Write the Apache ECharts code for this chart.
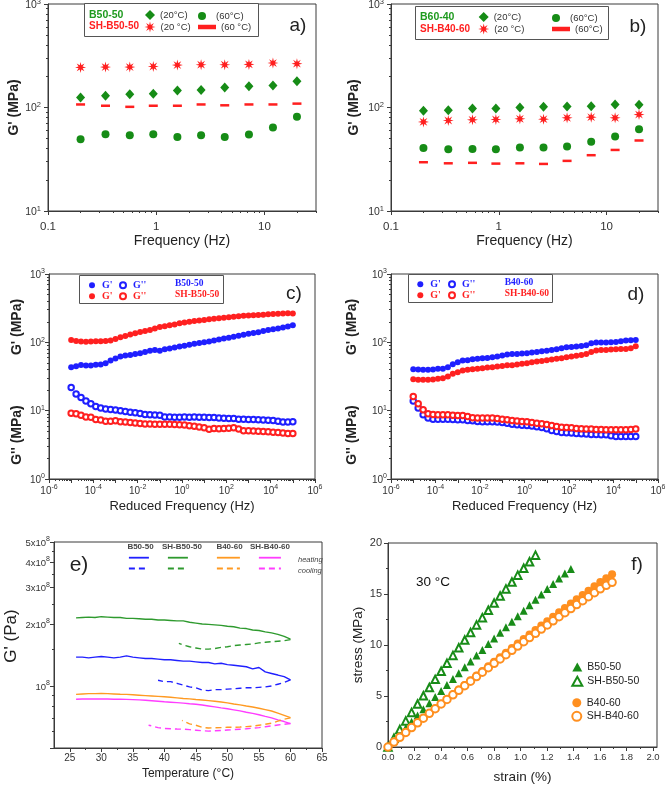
<!DOCTYPE html>
<html><head><meta charset="utf-8">
<script src="https://cdn.jsdelivr.net/npm/echarts@6/dist/echarts.min.js"></script>
<style>html,body{margin:0;padding:0;background:#fff}#c{width:666px;height:786px}</style>
</head><body><div id="c"></div>
<script>
const FONT = "'Liberation Sans', Arial, Helvetica, sans-serif";
const SERIF = "'Liberation Serif', 'Times New Roman', serif";
const AX = '#3a3a3a', TXT = '#333';

// ---------------- Panel a / b : frequency sweeps ----------------
const freqAB = [0.2, 0.34, 0.57, 0.94, 1.57, 2.6, 4.3, 7.2, 12, 20];
const aB5050_20 = [125, 130, 134, 136, 146, 148, 156, 160, 163, 179];
const aB5050_60 = [49.4, 55.2, 54.0, 55.2, 52.0, 54.0, 52.0, 54.8, 64.0, 81.2];
const aSH5050_20 = [244, 246, 246, 249, 257, 259, 259, 261, 269, 265];
const aSH5050_60 = [107, 104, 101.5, 104, 104, 107, 105, 107, 107, 109];
const bB6040_20 = [92.9, 94.2, 97.8, 97.8, 100, 101.5, 102.3, 103, 106.9, 106.1];
const bB6040_60 = [40.7, 39.5, 39.8, 39.5, 41.0, 41.0, 42.0, 46.6, 52.4, 61.7];
const bSH4060_20 = [72.6, 74.9, 76.0, 76.6, 77.7, 77.1, 79.4, 80.6, 79.4, 85.5];
const bSH4060_60 = [29.6, 28.9, 29.2, 28.7, 28.9, 28.5, 30.5, 34.6, 38.9, 48.0];

// ---------------- Panel c / d : master curves ----------------
const redFreq = [1e-5, 1.67e-5, 2.78e-5, 4.64e-5, 7.74e-5, 1.29e-4, 2.15e-4, 3.59e-4, 5.99e-4,
  1e-3, 1.67e-3, 2.78e-3, 4.64e-3, 7.74e-3, 1.29e-2, 2.15e-2, 3.59e-2, 5.99e-2,
  1e-1, 1.67e-1, 2.78e-1, 4.64e-1, 7.74e-1, 1.29, 2.15, 3.59, 5.99,
  10, 16.7, 27.8, 46.4, 77.4, 129, 215, 359, 599,
  1e3, 1.67e3, 2.78e3, 4.64e3, 7.74e3, 1.29e4, 2.15e4, 3.59e4, 5.99e4, 1e5];
const cB5050_Gp = [43.3, 44.5, 46.5, 46, 46, 46.8, 47.5, 49.5, 54, 58, 62, 64, 65.5, 67.5, 69.3, 72.5, 75.5, 77.5, 75.5, 79.3,
  81.5, 84, 87, 89, 92, 95, 98, 100, 103, 106, 110, 114, 117, 121, 125, 129, 133, 137, 141, 146, 151, 156, 160, 165, 170, 178];
const cB5050_Gpp = [21.8, 17.6, 15.6, 13.9, 12.6, 11.5, 10.9, 10.6, 10.4, 10.2, 9.95, 9.7, 9.5, 9.3, 9.1, 8.8, 8.7, 8.65, 8.6, 8.05,
  8.05, 8.0, 8.0, 8.05, 8.0, 8.05, 8.0, 8.0, 7.95, 7.95, 7.8, 7.75, 7.7, 7.7, 7.5, 7.5, 7.45, 7.4, 7.35, 7.3, 7.25, 7.15, 7.0, 6.85, 6.8, 6.9];
const cSH5050_Gp = [108, 105, 103, 102, 103, 104, 104, 105, 106, 112, 119, 124, 130, 136, 142, 147, 151, 160, 168, 172,
  178, 183, 190, 195, 200, 205, 209, 213, 218, 222, 225, 228, 232, 236, 240, 244, 247, 249, 251, 254, 257, 259, 262, 265, 267, 264];
const cSH5050_Gpp = [9.2, 9.0, 8.6, 8.1, 8.0, 7.4, 7.3, 7.0, 7.0, 7.1, 6.9, 6.8, 6.7, 6.6, 6.5, 6.4, 6.4, 6.35, 6.35, 6.35,
  6.35, 6.3, 6.2, 6.15, 6.0, 5.9, 5.75, 5.6, 5.35, 5.5, 5.45, 5.5, 5.55, 5.6, 5.37, 5.08, 5.1, 5.05, 5.0, 4.95, 4.9, 4.85, 4.8, 4.7, 4.65, 4.65];
const dB4060_Gp = [40.4, 40, 39.6, 39.6, 40, 40.9, 40.9, 43.3, 47.9, 51.2, 54.1, 54.7, 56.6, 57.3, 58.6, 59.2, 60.6, 62, 64.1, 66.2,
  67.7, 67.7, 68.5, 69.3, 70.9, 72.5, 74.1, 75, 77.5, 79.3, 82, 84.8, 85.7, 86.7, 88.7, 90.7, 97, 99.2, 99.2, 99.2, 100.3, 101.5, 103.8, 106.1, 107.3, 108.5];
const dB4060_Gpp = [13.9, 10.9, 8.7, 7.78, 7.52, 7.52, 7.52, 7.52, 7.45, 7.35, 7.35, 7.19, 7.1, 6.95, 6.87, 6.87, 6.87, 6.8, 6.72, 6.57,
  6.35, 6.21, 6.14, 6.07, 5.94, 5.8, 5.68, 5.43, 5.13, 4.97, 4.8, 4.75, 4.7, 4.64, 4.59, 4.54, 4.49, 4.49, 4.44, 4.44, 4.29, 4.2, 4.2, 4.2, 4.2, 4.2];
const dSH4060_Gp = [28.9, 28.3, 28.3, 28.3, 28.6, 29.2, 29.9, 31.6, 34.6, 36.6, 38.7, 39.6, 40.4, 40.9, 41.8, 42.8, 43.3, 44.2, 45.2, 46.3,
  46.3, 47.3, 48.4, 49.5, 51.2, 52.3, 53.5, 54.7, 56, 57.3, 58.6, 60.6, 62, 63.4, 65.5, 67.7, 72.5, 75.8, 77.5, 77.5, 78.4, 79.3, 80.2, 80.2, 82, 87.7];
const dSH4060_Gpp = [16.1, 12.6, 10.3, 9.0, 8.8, 8.7, 8.7, 8.7, 8.6, 8.5, 8.5, 8.23, 7.87, 7.78, 7.78, 7.78, 7.78, 7.7, 7.52, 7.35,
  7.19, 7.03, 6.95, 6.87, 6.72, 6.57, 6.43, 6.28, 6.07, 5.87, 5.73, 5.68, 5.62, 5.49, 5.43, 5.37, 5.37, 5.31, 5.31, 5.25, 5.25, 5.25, 5.25, 5.25, 5.31, 5.37];

// ---------------- Panel e : temperature ramps (G' in units of 1e8 Pa) ----------------
const E_UNIT = 1e8;
const tempHeat = [26, 27, 28, 29, 30, 31, 32, 33, 34, 35, 36, 37, 38, 39, 40, 41, 42, 43, 44, 45, 46, 47, 48, 49, 50, 51, 52, 53, 54, 55, 56, 57, 58, 59, 60];
const eB5050_heat = [1.38, 1.38, 1.37, 1.38, 1.39, 1.38, 1.37, 1.38, 1.40, 1.38, 1.37, 1.36, 1.36, 1.35, 1.34, 1.34, 1.33, 1.32, 1.32, 1.31,
  1.30, 1.30, 1.28, 1.29, 1.27, 1.26, 1.25, 1.24, 1.21, 1.23, 1.17, 1.15, 1.13, 1.11, 1.07];
const eSH5050_heat = [2.14, 2.15, 2.16, 2.15, 2.17, 2.16, 2.15, 2.15, 2.13, 2.13, 2.12, 2.11, 2.11, 2.09, 2.09, 2.08, 2.07, 2.07, 2.04, 2.02,
  2.00, 1.99, 1.98, 1.97, 1.95, 1.94, 1.91, 1.90, 1.87, 1.86, 1.83, 1.81, 1.78, 1.74, 1.69];
const eB4060_heat = [0.91, 0.915, 0.918, 0.918, 0.92, 0.918, 0.915, 0.912, 0.91, 0.906, 0.902, 0.898, 0.894, 0.89, 0.886, 0.882, 0.876, 0.87, 0.866, 0.86,
  0.855, 0.849, 0.843, 0.836, 0.828, 0.818, 0.81, 0.80, 0.791, 0.78, 0.768, 0.756, 0.738, 0.72, 0.702];
const eSH4060_heat = [0.862, 0.864, 0.865, 0.864, 0.865, 0.864, 0.862, 0.862, 0.861, 0.859, 0.856, 0.852, 0.848, 0.843, 0.838, 0.834, 0.830, 0.826, 0.82, 0.815,
  0.808, 0.80, 0.792, 0.783, 0.775, 0.766, 0.757, 0.746, 0.736, 0.725, 0.712, 0.70, 0.685, 0.672, 0.657];
const tempCoolB5050 = [60, 59, 58, 57, 56, 55, 54, 53, 52, 51, 50, 49, 48, 47, 46, 45, 44, 43, 42, 41, 40, 39];
const eB5050_cool = [1.07, 1.04, 1.02, 1.00, 0.99, 0.985, 0.98, 0.98, 0.975, 0.97, 0.965, 0.96, 0.96, 0.95, 0.955, 0.98, 0.99, 1.01, 1.03, 1.05, 1.05, 1.066];
const tempCoolSH5050 = [60, 59, 58, 57, 56, 55, 54, 53, 52, 51, 50, 49, 48, 47, 46, 45, 44, 43, 42.3];
const eSH5050_cool = [1.68, 1.66, 1.65, 1.64, 1.63, 1.62, 1.60, 1.59, 1.58, 1.57, 1.55, 1.54, 1.52, 1.51, 1.51, 1.53, 1.55, 1.58, 1.61];
const tempCoolB4060 = [60, 59, 58, 57, 56, 55, 54, 53, 52, 51, 50, 49, 48, 47, 46, 45, 44, 43, 42.8];
const eB4060_cool = [0.70, 0.69, 0.675, 0.66, 0.652, 0.645, 0.638, 0.635, 0.632, 0.63, 0.63, 0.628, 0.627, 0.625, 0.63, 0.645, 0.655, 0.675, 0.68];
const tempCoolSH4060 = [60, 59, 58, 57, 56, 55, 54, 53, 52, 51, 50, 49, 48, 47, 46, 45, 44, 43, 42, 41, 40, 39, 38, 37.5];
const eSH4060_cool = [0.657, 0.652, 0.647, 0.64, 0.634, 0.628, 0.624, 0.62, 0.617, 0.614, 0.611, 0.608, 0.606, 0.604, 0.606, 0.61, 0.614, 0.617, 0.618, 0.62, 0.622, 0.628, 0.64, 0.645];

// ---------------- Panel f : stress-strain ----------------
const strainF = [0, 0.045, 0.089, 0.134, 0.178, 0.223, 0.267, 0.312, 0.356, 0.401, 0.445, 0.490, 0.534, 0.579, 0.623, 0.668, 0.712, 0.757, 0.801, 0.846,
  0.890, 0.935, 0.979, 1.024, 1.068, 1.113, 1.157, 1.202, 1.246, 1.291, 1.335, 1.380, 1.424, 1.469, 1.513, 1.558, 1.602, 1.647, 1.691];
const fB5050 = [0, 0.63, 1.25, 1.87, 2.47, 3.09, 3.69, 4.30, 4.89, 5.49, 6.07, 6.66, 7.23, 7.82, 8.38, 8.96, 9.52, 10.09, 10.64, 11.20,
  11.74, 12.29, 12.83, 13.37, 13.90, 14.43, 14.95, 15.48, 15.99, 16.51, 17.01, 17.45];
const fSH5050 = [0, 0.87, 1.71, 2.56, 3.39, 4.22, 5.03, 5.84, 6.63, 7.43, 8.20, 8.98, 9.73, 10.49, 11.22, 11.97, 12.68, 13.41, 14.11, 14.81,
  15.50, 16.18, 16.85, 17.52, 18.16, 18.81];
const fB4060 = [0, 0.48, 0.95, 1.43, 1.90, 2.38, 2.84, 3.32, 3.78, 4.25, 4.71, 5.17, 5.63, 6.09, 6.54, 7.00, 7.45, 7.91, 8.35, 8.81,
  9.25, 9.70, 10.14, 10.58, 11.02, 11.46, 11.90, 12.34, 12.76, 13.20, 13.63, 14.06, 14.48, 14.91, 15.33, 15.76, 16.18, 16.55, 16.94];
const fSH4060 = [0, 0.48, 0.95, 1.43, 1.90, 2.37, 2.83, 3.30, 3.75, 4.22, 4.66, 5.12, 5.56, 6.01, 6.45, 6.90, 7.33, 7.77, 8.20, 8.63,
  9.05, 9.48, 9.90, 10.32, 10.73, 11.15, 11.56, 11.97, 12.37, 12.77, 13.17, 13.57, 13.96, 14.35, 14.74, 15.13, 15.51, 15.85, 16.15];

// ---------------- tick arrays ----------------
const abXLabels = [0.1, 1, 10];
const abYLabels = [10, 100, 1000];
const cdXLabels = [1e-6, 1e-4, 1e-2, 1, 1e2, 1e4, 1e6];
const cdXMajor = [1e-6, 1e-5, 1e-4, 1e-3, 1e-2, 1e-1, 1, 10, 1e2, 1e3, 1e4, 1e5, 1e6];
const cdYLabels = [1, 10, 100, 1000];
const eXLabels = [25, 30, 35, 40, 45, 50, 55, 60, 65];
const eXMinor = [27.5, 32.5, 37.5, 42.5, 47.5, 52.5, 57.5, 62.5];
const eYLabels = [1e8, 2e8, 3e8, 4e8, 5e8];
const eYMajor = [5e7, 1e8, 2e8, 3e8, 4e8, 5e8];
const eYMinor = [6e7, 7e7, 8e7, 9e7, 1.5e8, 2.5e8, 3.5e8, 4.5e8];
const fXLabels = [0, 0.2, 0.4, 0.6, 0.8, 1.0, 1.2, 1.4, 1.6, 1.8, 2.0];
const fXMinor = [0.1, 0.3, 0.5, 0.7, 0.9, 1.1, 1.3, 1.5, 1.7, 1.9];
const fYLabels = [0, 5, 10, 15, 20];
const fYMinor = [2.5, 7.5, 12.5, 17.5];

function logMinor(e0, e1) {
  const out = [];
  for (let e = e0; e < e1; e++) for (let k = 2; k <= 9; k++) out.push(+(k * Math.pow(10, e)).toPrecision(3));
  return out;
}
const zip = (xs, ys, s) => ys.map((y, i) => [xs[i], y * (s || 1)]);

// ---------------- colours & symbols ----------------
const GREEN_A = '#168c16', RED_A = '#ff1f1f';
const BLUE = '#1f1fff', RED = '#ff2020';
const E_BLUE = '#2020ff', E_GREEN = '#2e9a2e', E_ORANGE = '#ff9a22', E_MAGENTA = '#ff3dff';
const F_GREEN = '#188c18', F_ORANGE = '#ff8f1f';
const STAR = 'path://M10,0L3.7,1.53L7.07,7.07L1.53,3.7L0,10L-1.53,3.7L-7.07,7.07L-3.7,1.53L-10,0L-3.7,-1.53L-7.07,-7.07L-1.53,-3.7L0,-10L1.53,-3.7L7.07,-7.07L3.7,-1.53Z';
const DASH = 'path://M0,0H10V2.5H0Z';

const supFmt = v => '{b|10}{s|' + Math.round(Math.log10(v)) + '}';
const eYFmt = v => { const m = Math.round(v / 1e7) / 10; return m === 1 ? '{b|10}{s|8}' : '{b|' + m + 'x10}{s|8}'; };
const rich = (b, s) => ({
  b: {fontSize: b, color: TXT, fontFamily: FONT, verticalAlign: 'bottom', padding: [2, 0, 0, 0]},
  s: {fontSize: s, color: TXT, fontFamily: FONT, verticalAlign: 'top'}
});

function mkAxis(o) {
  const minor = !!o.minor;
  return {
    gridIndex: o.grid, type: o.type, min: o.min, max: o.max, position: o.pos, logBase: 10,
    axisLine: {show: !minor, onZero: false, lineStyle: {color: AX, width: 1}},
    axisTick: {show: true, inside: false, length: minor ? 2 : 4, lineStyle: {color: AX, width: 1}, customValues: o.ticks},
    axisLabel: minor ? {show: false} : {show: true, customValues: o.labels, formatter: o.fmt, margin: o.margin,
      fontSize: o.fs, color: TXT, fontFamily: FONT, rich: o.rich || {}},
    splitLine: {show: false}, minorTick: {show: false}, minorSplitLine: {show: false},
    name: o.name || '', nameLocation: 'middle', nameGap: o.nameGap || 0, nameRotate: o.nameRotate || 0,
    nameTextStyle: {fontSize: o.nameFs || 12, fontWeight: o.nameBold ? 'bold' : 'normal', color: '#222', fontFamily: FONT},
    silent: true
  };
}

const xAxis = [
  mkAxis({grid: 0, type: 'log', min: 0.1, max: 30, pos: 'bottom', labels: abXLabels, ticks: abXLabels, fmt: v => String(v), fs: 11.5, margin: 10, name: 'Frequency (Hz)', nameGap: 21, nameFs: 14}),
  mkAxis({grid: 1, type: 'log', min: 0.1, max: 30, pos: 'bottom', labels: abXLabels, ticks: abXLabels, fmt: v => String(v), fs: 11.5, margin: 10, name: 'Frequency (Hz)', nameGap: 21, nameFs: 14}),
  mkAxis({grid: 2, type: 'log', min: 1e-6, max: 1e6, pos: 'bottom', labels: cdXLabels, ticks: cdXMajor, fmt: supFmt, rich: rich(10, 7), margin: 5, name: 'Reduced Frequency (Hz)', nameGap: 21, nameFs: 13}),
  mkAxis({grid: 3, type: 'log', min: 1e-6, max: 1e6, pos: 'bottom', labels: cdXLabels, ticks: cdXMajor, fmt: supFmt, rich: rich(10, 7), margin: 5, name: 'Reduced Frequency (Hz)', nameGap: 21, nameFs: 13}),
  mkAxis({grid: 4, type: 'value', min: 22.5, max: 65, pos: 'bottom', labels: eXLabels, ticks: eXLabels, fmt: v => String(v), fs: 10, margin: 5, name: 'Temperature (°C)', nameGap: 20, nameFs: 12}),
  mkAxis({grid: 5, type: 'value', min: 0, max: 2.03, pos: 'bottom', labels: fXLabels, ticks: fXLabels, fmt: v => v.toFixed(1), fs: 9.5, margin: 5, name: 'strain (%)', nameGap: 23, nameFs: 13.5}),
  mkAxis({grid: 0, type: 'log', min: 0.1, max: 30, pos: 'bottom', ticks: logMinor(-1, 2), minor: true}),
  mkAxis({grid: 1, type: 'log', min: 0.1, max: 30, pos: 'bottom', ticks: logMinor(-1, 2), minor: true}),
  mkAxis({grid: 2, type: 'log', min: 1e-6, max: 1e6, pos: 'bottom', ticks: logMinor(-6, 6), minor: true}),
  mkAxis({grid: 3, type: 'log', min: 1e-6, max: 1e6, pos: 'bottom', ticks: logMinor(-6, 6), minor: true}),
  mkAxis({grid: 4, type: 'value', min: 22.5, max: 65, pos: 'bottom', ticks: eXMinor, minor: true}),
  mkAxis({grid: 5, type: 'value', min: 0, max: 2.03, pos: 'bottom', ticks: fXMinor, minor: true})
];
const yAxis = [
  mkAxis({grid: 0, type: 'log', min: 10, max: 1000, pos: 'left', labels: abYLabels, ticks: abYLabels, fmt: supFmt, rich: rich(10.5, 7.5), margin: 7, name: "G' (MPa)", nameGap: 27, nameRotate: 90, nameFs: 14, nameBold: true}),
  mkAxis({grid: 1, type: 'log', min: 10, max: 1000, pos: 'left', labels: abYLabels, ticks: abYLabels, fmt: supFmt, rich: rich(10.5, 7.5), margin: 7, name: "G' (MPa)", nameGap: 30, nameRotate: 90, nameFs: 14, nameBold: true}),
  mkAxis({grid: 2, type: 'log', min: 1, max: 1000, pos: 'left', labels: cdYLabels, ticks: cdYLabels, fmt: supFmt, rich: rich(10, 7), margin: 4}),
  mkAxis({grid: 3, type: 'log', min: 1, max: 1000, pos: 'left', labels: cdYLabels, ticks: cdYLabels, fmt: supFmt, rich: rich(10, 7), margin: 4}),
  mkAxis({grid: 4, type: 'log', min: 5e7, max: 5e8, pos: 'left', labels: eYLabels, ticks: eYMajor, fmt: eYFmt, rich: rich(9.5, 7), margin: 4}),
  mkAxis({grid: 5, type: 'value', min: 0, max: 20, pos: 'left', labels: fYLabels, ticks: fYLabels, fmt: v => String(v), fs: 11, margin: 6, name: 'stress (MPa)', nameGap: 23, nameRotate: 90, nameFs: 13.5}),
  mkAxis({grid: 0, type: 'log', min: 10, max: 1000, pos: 'left', ticks: logMinor(1, 3), minor: true}),
  mkAxis({grid: 1, type: 'log', min: 10, max: 1000, pos: 'left', ticks: logMinor(1, 3), minor: true}),
  mkAxis({grid: 2, type: 'log', min: 1, max: 1000, pos: 'left', ticks: logMinor(0, 3), minor: true}),
  mkAxis({grid: 3, type: 'log', min: 1, max: 1000, pos: 'left', ticks: logMinor(0, 3), minor: true}),
  mkAxis({grid: 4, type: 'log', min: 5e7, max: 5e8, pos: 'left', ticks: eYMinor, minor: true}),
  mkAxis({grid: 5, type: 'value', min: 0, max: 20, pos: 'left', ticks: fYMinor, minor: true})
];

const gridBox = g => Object.assign({show: true, borderColor: AX, borderWidth: 1, backgroundColor: 'transparent', containLabel: false, outerBoundsMode: 'none'}, g);
const grid = [
  gridBox({left: 48, top: 4, width: 268, height: 207}),
  gridBox({left: 391, top: 4, width: 267, height: 207}),
  gridBox({left: 49, top: 274, width: 266, height: 205}),
  gridBox({left: 391, top: 274, width: 267, height: 205}),
  gridBox({left: 54, top: 542, width: 268, height: 206}),
  gridBox({left: 388, top: 543, width: 269, height: 204})
];

const LABEL = {};
const series = [];
function sc(name, label, g, xs, ys, symbol, size, color, borderWidth) {
  LABEL[name] = label;
  const itemStyle = {color, opacity: 1};
  if (borderWidth) { itemStyle.borderColor = color; itemStyle.borderWidth = borderWidth; }
  series.push({name, type: 'scatter', xAxisIndex: g, yAxisIndex: g, symbol, symbolSize: size,
    itemStyle, data: zip(xs, ys), silent: true, z: 3});
}
// a
sc('a1', '(20°C)', 0, freqAB, aB5050_20, 'diamond', [9, 10], GREEN_A);
sc('a2', '(60°C)', 0, freqAB, aB5050_60, 'circle', 8, GREEN_A);
sc('a3', '(20 °C)', 0, freqAB, aSH5050_20, STAR, 11, RED_A);
sc('a4', '(60 °C)', 0, freqAB, aSH5050_60, DASH, [9, 2.5], RED_A);
// b
sc('b1', '(20°C)', 1, freqAB, bB6040_20, 'diamond', [9, 10], GREEN_A);
sc('b2', '(60°C)', 1, freqAB, bB6040_60, 'circle', 8, GREEN_A);
sc('b3', '(20 °C)', 1, freqAB, bSH4060_20, STAR, 11, RED_A);
sc('b4', '(60°C)', 1, freqAB, bSH4060_60, DASH, [9, 2.5], RED_A);
// c
sc('c1', "G'", 2, redFreq, cB5050_Gp, 'circle', 6, BLUE);
sc('c2', "G''", 2, redFreq, cB5050_Gpp, 'emptyCircle', 5.5, BLUE, 1.4);
sc('c3', "G'", 2, redFreq, cSH5050_Gp, 'circle', 6, RED);
sc('c4', "G''", 2, redFreq, cSH5050_Gpp, 'emptyCircle', 5.5, RED, 1.4);
// d
sc('d1', "G'", 3, redFreq, dB4060_Gp, 'circle', 6, BLUE);
sc('d2', "G''", 3, redFreq, dB4060_Gpp, 'emptyCircle', 5.5, BLUE, 1.4);
sc('d3', "G'", 3, redFreq, dSH4060_Gp, 'circle', 6, RED);
sc('d4', "G''", 3, redFreq, dSH4060_Gpp, 'emptyCircle', 5.5, RED, 1.4);
// f
sc('f1', 'B50-50', 5, strainF, fB5050, 'triangle', 8, F_GREEN);
sc('f2', 'SH-B50-50', 5, strainF, fSH5050, 'emptyTriangle', 7.5, F_GREEN, 0.8);
sc('f3', 'B40-60', 5, strainF, fB4060, 'circle', 8, F_ORANGE);
sc('f4', 'SH-B40-60', 5, strainF, fSH4060, 'emptyCircle', 7.5, F_ORANGE, 0.8);
// e (lines)
function ln(name, xs, ys, color, dashed) {
  LABEL[name] = '';
  series.push({name, type: 'line', xAxisIndex: 4, yAxisIndex: 4, symbol: 'none', silent: true, z: 3,
    lineStyle: {color, width: 1.4, type: dashed ? [6, 4] : 'solid'}, itemStyle: {color}, data: zip(xs, ys, E_UNIT)});
}
ln('e1', tempHeat, eB5050_heat, E_BLUE, false);
ln('e2', tempHeat, eSH5050_heat, E_GREEN, false);
ln('e3', tempHeat, eB4060_heat, E_ORANGE, false);
ln('e4', tempHeat, eSH4060_heat, E_MAGENTA, false);
ln('e5', tempCoolB5050, eB5050_cool, E_BLUE, true);
ln('e6', tempCoolSH5050, eSH5050_cool, E_GREEN, true);
ln('e7', tempCoolB4060, eB4060_cool, E_ORANGE, true);
ln('e8', tempCoolSH4060, eSH4060_cool, E_MAGENTA, true);

function lg(names, left, top, w, h, ts, orient, gap, extra) {
  return Object.assign({show: true, left, top, padding: 0, orient: orient || 'horizontal', itemGap: gap || 0, itemWidth: w, itemHeight: h,
    selectedMode: false, data: names, formatter: n => LABEL[n],
    textStyle: Object.assign({color: TXT, fontSize: 9.5, fontFamily: FONT, padding: [0, 0, 0, 0]}, ts || {})}, extra || {});
}
const SERIF_T = c => ({color: c, fontFamily: SERIF, fontWeight: 'bold', fontSize: 10});
const E_LEG = {itemStyle: {opacity: 0, borderWidth: 0}, lineStyle: {width: 1.8}};
const legend = [
  // a
  lg(['a1'], 145, 10, 10, 10), lg(['a2'], 198, 11, 18, 8),
  lg(['a3'], 144.5, 21.5, 11, 11), lg(['a4'], 198, 22, 18, 10),
  // b
  lg(['b1'], 478.7, 12, 10, 10), lg(['b2'], 552, 13, 18, 8),
  lg(['b3'], 478.2, 23.5, 11, 11), lg(['b4'], 552, 24, 18, 10),
  // c
  lg(['c1'], 89, 280.3, 10, 6, SERIF_T(BLUE)), lg(['c2'], 119, 280.3, 10, 6, SERIF_T(BLUE)),
  lg(['c3'], 89, 291.3, 10, 6, SERIF_T(RED)), lg(['c4'], 119, 291.3, 10, 6, SERIF_T(RED)),
  // d
  lg(['d1'], 417.3, 279.3, 10, 6, SERIF_T(BLUE)), lg(['d2'], 448, 279.3, 10, 6, SERIF_T(BLUE)),
  lg(['d3'], 417.3, 290.3, 10, 6, SERIF_T(RED)), lg(['d4'], 448, 290.3, 10, 6, SERIF_T(RED)),
  // e
  lg(['e1', 'e5'], 128, 553.7, 20, 8, {fontSize: 1}, 'vertical', 3.6, E_LEG),
  lg(['e2', 'e6'], 167, 553.7, 20, 8, {fontSize: 1}, 'vertical', 3.6, E_LEG),
  lg(['e3', 'e7'], 216, 553.7, 23, 8, {fontSize: 1}, 'vertical', 3.6, E_LEG),
  lg(['e4', 'e8'], 258, 553.7, 22, 8, {fontSize: 1}, 'vertical', 3.6, E_LEG),
  // f
  lg(['f1', 'f2'], 571.3, 661.5, 10, 9, {fontSize: 10.5, color: '#222'}, 'vertical', 3.3),
  lg(['f3', 'f4'], 571.3, 697.2, 10, 9, {fontSize: 10.5, color: '#222'}, 'vertical', 2.6)
];

function T(text, x, y, st, rot) {
  return {type: 'text', x, y, rotation: rot || 0, z: 100, silent: true,
    style: Object.assign({text, fill: '#222', fontSize: 12, fontFamily: FONT, align: 'left', verticalAlign: 'middle'}, st || {})};
}
function box(x, y, w, h) {
  return {type: 'rect', z: 1, silent: true, shape: {x: x + 0.5, y: y + 0.5, width: w, height: h}, style: {fill: '#fff', stroke: '#555', lineWidth: 1}};
}
const graphic = [
  box(84, 3, 174, 33), box(415, 6, 193, 33), box(79, 275, 144, 28), box(408, 274, 144, 28),
  T('B50-50', 89, 15, {fill: '#1e9a1e', fontWeight: 'bold', fontSize: 10.5}),
  T('SH-B50-50', 89, 26.7, {fill: RED_A, fontWeight: 'bold', fontSize: 10}),
  T('B60-40', 420, 17, {fill: '#1e9a1e', fontWeight: 'bold', fontSize: 10.5}),
  T('SH-B40-60', 420, 29, {fill: RED_A, fontWeight: 'bold', fontSize: 10}),
  T('B50-50', 175, 283.3, {fill: BLUE, fontWeight: 'bold', fontSize: 9.5, fontFamily: SERIF}),
  T('SH-B50-50', 175, 294.3, {fill: RED, fontWeight: 'bold', fontSize: 9.5, fontFamily: SERIF}),
  T('B40-60', 504.7, 282.3, {fill: BLUE, fontWeight: 'bold', fontSize: 9.5, fontFamily: SERIF}),
  T('SH-B40-60', 504.7, 293.3, {fill: RED, fontWeight: 'bold', fontSize: 9.5, fontFamily: SERIF}),
  T('a)', 298, 26, {fontSize: 19, align: 'center'}),
  T('b)', 638, 27, {fontSize: 19, align: 'center'}),
  T('c)', 294, 294, {fontSize: 19, align: 'center'}),
  T('d)', 636, 295, {fontSize: 19, align: 'center'}),
  T('e)', 79, 565, {fontSize: 21, align: 'center'}),
  T('f)', 637, 565, {fontSize: 19, align: 'center'}),
  T("G' (MPa)", 17, 327, {fontSize: 14, fontWeight: 'bold', align: 'center'}, Math.PI / 2),
  T("G'' (MPa)", 17, 435, {fontSize: 14, fontWeight: 'bold', align: 'center'}, Math.PI / 2),
  T("G' (MPa)", 352, 327, {fontSize: 14, fontWeight: 'bold', align: 'center'}, Math.PI / 2),
  T("G'' (MPa)", 352, 435, {fontSize: 14, fontWeight: 'bold', align: 'center'}, Math.PI / 2),
  T("G' (Pa)", 11, 636, {fontSize: 17, align: 'center'}, Math.PI / 2),
  T('B50-50', 140.5, 547, {fontSize: 8, fontWeight: 'bold', align: 'center', fill: '#444'}),
  T('SH-B50-50', 182, 547, {fontSize: 8, fontWeight: 'bold', align: 'center', fill: '#444'}),
  T('B40-60', 229.5, 546.7, {fontSize: 8, fontWeight: 'bold', align: 'center', fill: '#444'}),
  T('SH-B40-60', 270, 546.7, {fontSize: 8, fontWeight: 'bold', align: 'center', fill: '#444'}),
  T('heating', 298, 559.5, {fontSize: 7.5, fontStyle: 'italic', fill: '#444'}),
  T('cooling', 298, 571, {fontSize: 7.5, fontStyle: 'italic', fill: '#444'}),
  T('30 °C', 416, 582, {fontSize: 13.5, fill: '#111'})
];

const chart = echarts.init(document.getElementById('c'), null, {renderer: 'canvas'});
chart.setOption({animation: false, backgroundColor: '#fff', grid, xAxis, yAxis, series, legend, graphic});
</script>
</body></html>
